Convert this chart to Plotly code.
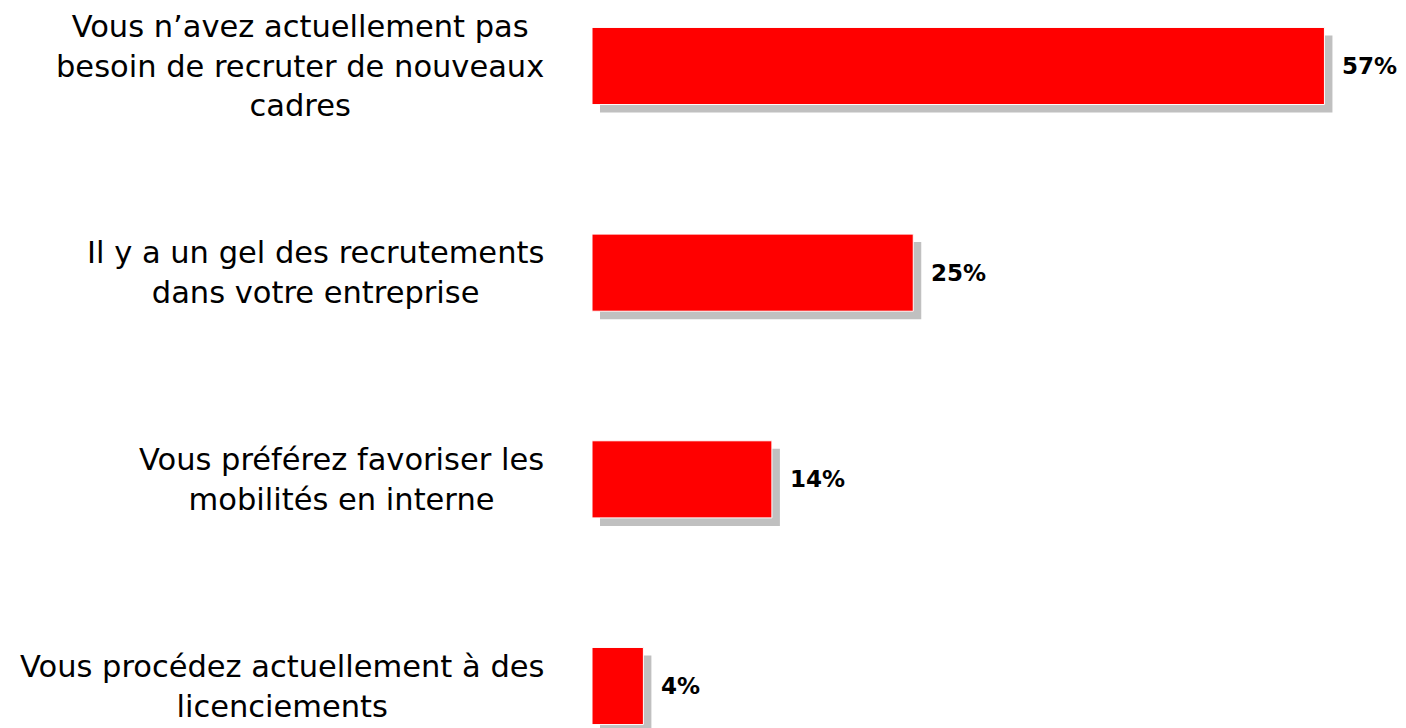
import plotly.graph_objects as go

categories = [
    "Vous n’avez actuellement pas<br>besoin de recruter de nouveaux<br>cadres",
    "Il y a un gel des recrutements<br>dans votre entreprise",
    "Vous préférez favoriser les<br>mobilités en interne",
    "Vous procédez actuellement à des<br>licenciements",
]
values = [57, 25, 14, 4]
value_labels = ["57%", "25%", "14%", "4%"]

FONT = "DejaVu Sans"
positions = list(range(len(categories)))
bar_width = 0.373
px_per_unit_x = 12.85          # pixels per percentage point
px_per_unit_y = 206.7          # pixels per category step
shadow_dx = 8 / px_per_unit_x
shadow_dy = 8 / px_per_unit_y

W, H = 1398, 720
L = 584

fig = go.Figure()
# shadow
fig.add_trace(go.Bar(
    y=positions, x=values, base=[shadow_dx] * len(values), orientation="h",
    width=bar_width, offset=-bar_width / 2 + shadow_dy,
    marker=dict(color="#c0c0c0", line=dict(width=0)),
    hoverinfo="skip", showlegend=False,
))
# main bars
fig.add_trace(go.Bar(
    y=positions, x=values, orientation="h", width=bar_width,
    offset=-bar_width / 2,
    marker=dict(color="#ff0000", line=dict(color="white", width=1)),
    showlegend=False,
))

annotations = []
for p, v, lab in zip(positions, values, value_labels):
    annotations.append(dict(
        x=v, y=p, xref="x", yref="y", text=f"<b>{lab}</b>", showarrow=False,
        xanchor="left", yanchor="middle", xshift=16,
        font=dict(family=FONT, size=23, color="black"),
    ))
for p, c in zip(positions, categories):
    annotations.append(dict(
        x=0, y=p, xref="paper", yref="y", text=c, showarrow=False,
        xanchor="right", yanchor="middle", xshift=-46, align="center",
        font=dict(family=FONT, size=30.5, color="black"),
    ))

plot_w = W - L
x_max = plot_w / px_per_unit_x
y_top = -58 / px_per_unit_y
y_bot = 3 + (H - 678) / px_per_unit_y

fig.update_layout(
    width=W, height=H,
    margin=dict(l=L, r=0, t=0, b=0),
    paper_bgcolor="white", plot_bgcolor="white",
    barmode="overlay",
    xaxis=dict(range=[0, x_max], visible=False),
    yaxis=dict(range=[y_bot, y_top], visible=False),
    annotations=annotations,
)

fig.write_html("out.html")
